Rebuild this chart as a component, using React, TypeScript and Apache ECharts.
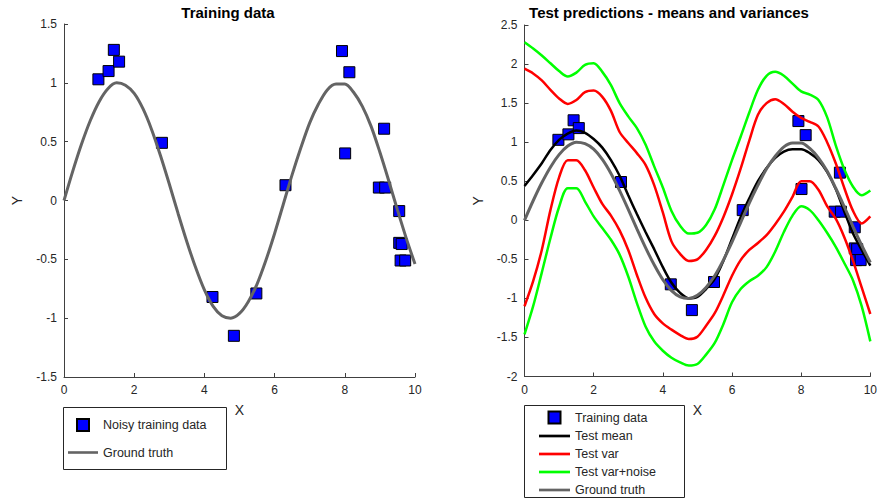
import React, { useEffect, useRef } from 'react';
import * as echarts from 'echarts';

const FONT = "'Liberation Sans', Arial, sans-serif";

// Noisy training data
const X_TRAIN = [0.98, 1.27, 1.42, 1.57, 2.79, 4.23, 4.84, 5.48, 6.31, 7.92, 8.01, 8.13, 8.97, 9.12, 9.15, 9.55, 9.55, 9.62, 9.59, 9.72];
const Y_TRAIN = [1.03, 1.10, 1.28, 1.18, 0.49, -0.82, -1.15, -0.79, 0.13, 1.27, 0.40, 1.09, 0.11, 0.61, 0.11, -0.09, -0.36, -0.37, -0.51, -0.51];

// Shared x grid for the curves
const X_GRID = [0, 0.25, 0.5, 0.75, 1, 1.25, 1.5, 1.75, 2, 2.25, 2.5, 2.75, 3, 3.25, 3.5, 3.75, 4, 4.25, 4.5, 4.75, 5, 5.25, 5.5, 5.75, 6, 6.25, 6.5, 6.75, 7, 7.25, 7.5, 7.75, 8, 8.25, 8.5, 8.75, 9, 9.25, 9.5, 9.75, 10];

const GROUND_TRUTH = [0, 0.25, 0.48, 0.68, 0.84, 0.95, 1.0, 0.98, 0.91, 0.78, 0.6, 0.38, 0.14, -0.11, -0.35, -0.57, -0.76, -0.9, -0.98, -1.0, -0.96, -0.86, -0.71, -0.51, -0.28, -0.03, 0.22, 0.45, 0.66, 0.82, 0.94, 0.99, 0.99, 0.92, 0.8, 0.63, 0.41, 0.17, -0.08, -0.32, -0.54];

const TEST_MEAN = [0.44, 0.58, 0.73, 0.9, 1.03, 1.11, 1.15, 1.12, 1.04, 0.93, 0.77, 0.57, 0.32, 0.08, -0.15, -0.37, -0.6, -0.8, -0.93, -1.0, -0.98, -0.88, -0.75, -0.52, -0.24, 0.04, 0.28, 0.5, 0.67, 0.8, 0.88, 0.91, 0.91, 0.86, 0.77, 0.62, 0.4, 0.11, -0.17, -0.38, -0.58];

const VAR_UPPER = [1.94, 1.88, 1.79, 1.67, 1.56, 1.49, 1.54, 1.64, 1.66, 1.58, 1.4, 1.13, 0.99, 0.86, 0.71, 0.45, 0.1, -0.27, -0.43, -0.52, -0.5, -0.38, -0.2, 0.04, 0.33, 0.66, 1.02, 1.35, 1.5, 1.55, 1.49, 1.39, 1.31, 1.26, 1.2, 1.0, 0.73, 0.41, 0.12, -0.04, 0.05];
const VAR_LOWER = [-1.1, -0.78, -0.38, 0.13, 0.55, 0.77, 0.77, 0.64, 0.42, 0.21, 0.06, -0.13, -0.38, -0.7, -0.99, -1.2, -1.32, -1.4, -1.47, -1.52, -1.49, -1.35, -1.19, -0.96, -0.71, -0.51, -0.38, -0.29, -0.19, -0.05, 0.11, 0.3, 0.5, 0.5, 0.39, 0.18, 0.02, -0.22, -0.52, -0.86, -1.2];

const NOISE_UPPER = [2.28, 2.2, 2.11, 2.01, 1.91, 1.84, 1.89, 1.99, 2.01, 1.9, 1.73, 1.5, 1.33, 1.18, 0.97, 0.69, 0.42, 0.12, -0.07, -0.17, -0.16, -0.06, 0.14, 0.45, 0.77, 1.07, 1.38, 1.67, 1.85, 1.9, 1.85, 1.75, 1.65, 1.61, 1.54, 1.32, 0.96, 0.65, 0.43, 0.32, 0.38];
const NOISE_LOWER = [-1.46, -1.1, -0.67, -0.23, 0.17, 0.41, 0.41, 0.24, 0.05, -0.1, -0.25, -0.44, -0.72, -1.06, -1.36, -1.55, -1.67, -1.76, -1.82, -1.86, -1.84, -1.72, -1.57, -1.33, -1.05, -0.88, -0.78, -0.71, -0.6, -0.4, -0.15, 0.06, 0.18, 0.13, 0.0, -0.16, -0.34, -0.55, -0.77, -1.1, -1.55];

const X_TICKS = { min: 0, max: 10, interval: 2 };
const Y_LEFT = { min: -1.5, max: 1.5, interval: 0.5 };
const Y_RIGHT = { min: -2, max: 2.5, interval: 0.5 };

const zip = (xs: number[], ys: number[]) => xs.map((x, i) => [x, ys[i]]);

const AXIS_COLOR = '#404040';
const TEXT_COLOR = '#262626';

function axisCommon() {
  return {
    type: 'value' as const,
    axisLine: { show: true, onZero: false, lineStyle: { color: AXIS_COLOR, width: 1 } },
    axisTick: { show: true, inside: true, length: 4, lineStyle: { color: AXIS_COLOR } },
    axisLabel: { color: TEXT_COLOR, fontSize: 12, fontFamily: FONT, margin: 7 },
    splitLine: { show: false },
    nameLocation: 'middle' as const,
    nameTextStyle: { color: TEXT_COLOR, fontSize: 14, fontFamily: FONT },
  };
}

export default function App() {
  const ref = useRef<HTMLDivElement>(null);

  useEffect(() => {
    if (!ref.current) return;
    const chart = echarts.init(ref.current, undefined, { renderer: 'svg' });

    const train = zip(X_TRAIN, Y_TRAIN);
    const lineBase = (name: string, color: string, width: number, data: number[], xi: number) => ({
      name,
      type: 'line' as const,
      xAxisIndex: xi,
      yAxisIndex: xi,
      data: zip(X_GRID, data),
      smooth: 0.3,
      symbol: 'none',
      lineStyle: { color, width },
      itemStyle: { color },
    });
    const scatter = (name: string, xi: number) => ({
      name,
      type: 'scatter' as const,
      xAxisIndex: xi,
      yAxisIndex: xi,
      data: train,
      symbol: 'rect',
      symbolSize: 11,
      itemStyle: { color: '#0000ff', borderColor: '#000000', borderWidth: 1, opacity: 1 },
    });

    const squareIcon = 'path://M0,0H10V10H0Z';
    const lineIcon = 'path://M0,0H30V2.6H0Z';
    const lineItem = (name: string) => ({ name, icon: lineIcon, itemStyle: { borderWidth: 0 } });

    chart.setOption({
      animation: false,
      backgroundColor: '#ffffff',
      textStyle: { fontFamily: FONT },
      title: [
        {
          text: 'Training data', left: 228, top: 5, padding: 0, textAlign: 'center',
          textStyle: { fontSize: 15, fontWeight: 'bold', color: '#000', fontFamily: FONT },
        },
        {
          text: 'Test predictions - means and variances', left: 669, top: 5, padding: 0, textAlign: 'center',
          textStyle: { fontSize: 15, fontWeight: 'bold', color: '#000', fontFamily: FONT },
        },
      ],
      grid: [
        { left: 64, right: 465, top: 24, bottom: 122 },
        { left: 524.5, right: 5, top: 25, bottom: 122.5 },
      ],
      xAxis: [
        { ...axisCommon(), gridIndex: 0, ...X_TICKS, name: 'X', nameGap: 26 },
        { ...axisCommon(), gridIndex: 1, ...X_TICKS, name: 'X', nameGap: 26 },
      ],
      yAxis: [
        { ...axisCommon(), gridIndex: 0, ...Y_LEFT, name: 'Y', nameGap: 40 },
        { ...axisCommon(), gridIndex: 1, ...Y_RIGHT, name: 'Y', nameGap: 40 },
      ],
      legend: [
        {
          orient: 'vertical', left: 68, top: 418, padding: 0, itemGap: 14,
          itemWidth: 30, itemHeight: 12,
          textStyle: { fontSize: 12.5, color: TEXT_COLOR, fontFamily: FONT },
          data: [
            { name: 'Noisy training data', icon: squareIcon },
            lineItem('Ground truth'),
          ],
          selectedMode: false,
        },
        {
          orient: 'vertical', left: 539, top: 410.5, padding: 0, itemGap: 5,
          itemWidth: 31, itemHeight: 12,
          textStyle: { fontSize: 12.5, color: TEXT_COLOR, fontFamily: FONT },
          data: [
            { name: 'Training data', icon: squareIcon },
            lineItem('Test mean'),
            lineItem('Test var'),
            lineItem('Test var+noise'),
            lineItem('Ground truth '),
          ],
          selectedMode: false,
        },
      ],
      graphic: [
        { type: 'rect', shape: { x: 63.5, y: 407.5, width: 163, height: 62 }, style: { fill: 'none', stroke: '#262626', lineWidth: 1 }, silent: true },
        { type: 'rect', shape: { x: 524.5, y: 405.5, width: 160, height: 92 }, style: { fill: 'none', stroke: '#262626', lineWidth: 1 }, silent: true },
      ],
      series: [
        scatter('Noisy training data', 0),
        lineBase('Ground truth', '#646464', 3, GROUND_TRUTH, 0),
        scatter('Training data', 1),
        lineBase('Test mean', '#000000', 2.5, TEST_MEAN, 1),
        { ...lineBase('Test var', '#ff0000', 2.5, VAR_UPPER, 1) },
        { ...lineBase('Test var', '#ff0000', 2.5, VAR_LOWER, 1) },
        { ...lineBase('Test var+noise', '#00ff00', 2.5, NOISE_UPPER, 1) },
        { ...lineBase('Test var+noise', '#00ff00', 2.5, NOISE_LOWER, 1) },
        lineBase('Ground truth ', '#646464', 3, GROUND_TRUTH, 1),
      ],
    });

    return () => chart.dispose();
  }, []);

  return <div ref={ref} style={{ width: 880, height: 499, position: 'absolute', left: 0, top: 0 }} />;
}
